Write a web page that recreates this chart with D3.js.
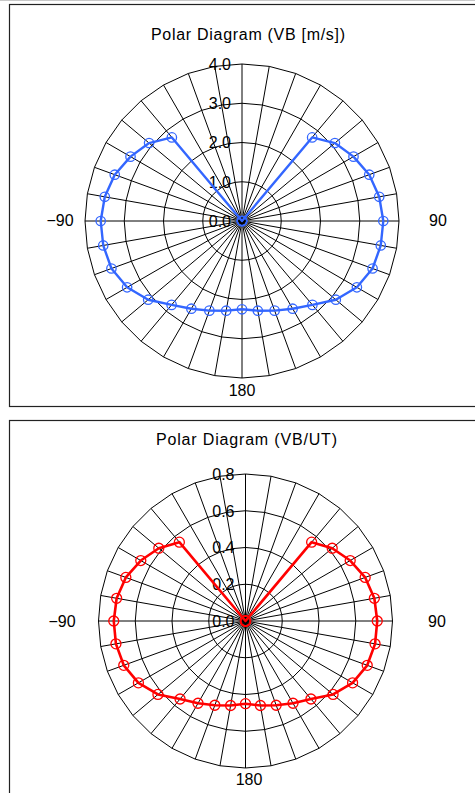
<!DOCTYPE html>
<html><head><meta charset="utf-8">
<script src="https://cdn.jsdelivr.net/npm/d3@7/dist/d3.min.js"></script>
<style>body{margin:0;background:#fff}svg{display:block}text{font-family:"Liberation Sans",Arial,sans-serif;fill:#000}</style>
</head><body>
<svg id="c" width="475" height="793"></svg>
<script>
// categories: angle in degrees (clockwise from top)
const angles = [0,10,20,30,40,50,60,70,80,90,100,110,120,130,140,150,160,170,180,190,200,210,220,230,240,250,260,270,280,290,300,310,320,330,340,350];
const categoryLabels = {90:"90",180:"180",270:"−90"};
// series 1: VB [m/s]
const vb = [0,0,0,0,2.78,3.09,3.28,3.45,3.55,3.60,3.59,3.54,3.38,3.12,2.79,2.58,2.43,2.32,2.25,2.32,2.43,2.58,2.79,3.12,3.38,3.54,3.59,3.60,3.55,3.45,3.28,3.09,2.78,0,0,0];
const vbTicks = [0,1,2,3,4];
const vbTickLabels = ["0.0","1.0","2.0","3.0","4.0"];
// series 2: VB/UT
const vbut = [0,0,0,0,0.560,0.616,0.658,0.693,0.712,0.717,0.716,0.705,0.673,0.622,0.554,0.517,0.488,0.467,0.450,0.467,0.488,0.517,0.554,0.622,0.673,0.705,0.716,0.717,0.712,0.693,0.658,0.616,0.560,0,0,0];
const vbutTicks = [0,0.2,0.4,0.6,0.8];
const vbutTickLabels = ["0.0","0.2","0.4","0.6","0.8"];

const svg = d3.select("#c");
svg.append("line").attr("x1",0).attr("x2",475).attr("y1",0.5).attr("y2",0.5).attr("stroke","#c8c8c8");

function chart(cfg){
  const g = svg.append("g");
  g.append("rect").attr("x",cfg.box[0]+0.5).attr("y",cfg.box[1]+0.5).attr("width",cfg.box[2]).attr("height",cfg.box[3])
    .attr("fill","none").attr("stroke","#222").attr("stroke-width",1.2);
  g.append("text").attr("x",cfg.tx).attr("y",cfg.ty).attr("text-anchor","middle").attr("font-size",16)
    .attr("textLength",cfg.tlen).attr("lengthAdjust","spacing").text(cfg.title);
  const r = d3.scaleLinear().domain([0,cfg.max]).range([0,cfg.R]);
  const a = d3.scaleLinear().domain([0,360]).range([0,2*Math.PI]);
  const p = g.append("g").attr("transform",`translate(${cfg.cx},${cfg.cy})`);
  const pt = (ang,v)=>[r(v)*Math.sin(a(ang)), -r(v)*Math.cos(a(ang))];
  // spokes
  p.selectAll("line.sp").data(angles).join("line").attr("class","sp")
    .attr("x1",0).attr("y1",0).attr("x2",d=>pt(d,cfg.max)[0]).attr("y2",d=>pt(d,cfg.max)[1])
    .attr("stroke","#000").attr("stroke-width",1);
  // rings (polygons)
  const ring = d3.lineRadial().angle(d=>a(d.ang)).radius(d=>r(d.v)).curve(d3.curveLinearClosed);
  p.selectAll("path.rg").data(cfg.ticks.filter(t=>t>0)).join("path").attr("class","rg")
    .attr("d",t=>ring(angles.map(ang=>({ang,v:t})))).attr("fill","none").attr("stroke","#000").attr("stroke-width",1);
  // tick labels
  p.selectAll("text.tk").data(cfg.ticks).join("text").attr("class","tk")
    .attr("x",-11).attr("y",t=>-r(t)).attr("dy","0.36em").attr("text-anchor","end").attr("font-size",16)
    .text((t,i)=>cfg.tickLabels[i]);
  // series
  const pts = angles.map((ang,i)=>({ang,v:cfg.vals[i]}));
  const line = d3.lineRadial().angle(d=>a(d.ang)).radius(d=>r(d.v)).curve(d3.curveLinearClosed);
  p.append("path").attr("d",line(pts)).attr("fill","none").attr("stroke",cfg.color).attr("stroke-width",cfg.lw).attr("stroke-linejoin","round");
  p.selectAll("circle.mk").data(pts).join("circle").attr("class","mk")
    .attr("cx",d=>pt(d.ang,d.v)[0]).attr("cy",d=>pt(d.ang,d.v)[1]).attr("r",cfg.mr)
    .attr("fill","none").attr("stroke",cfg.color).attr("stroke-width",1.3);
  // category labels
  for (const k of Object.keys(categoryLabels)){
    const ang = +k;
    const pos = cfg.catPos[ang];
    g.append("text").attr("x",pos[0]).attr("y",pos[1]).attr("dy","0.36em").attr("text-anchor","middle")
      .attr("font-size",16).text(categoryLabels[k]);
  }
}

chart({box:[9,4,480,402],title:"Polar Diagram (VB [m/s])",tx:248,ty:40,tlen:194,
  cx:242,cy:221,R:157,max:4,ticks:vbTicks,tickLabels:vbTickLabels,vals:vb,color:"#3366ff",lw:2.4,mr:4.7,
  catPos:{90:[438,220],180:[242,390],270:[60,220]}});
chart({box:[9,420,480,390],title:"Polar Diagram (VB/UT)",tx:246.5,ty:445,tlen:181,
  cx:245.5,cy:621,R:147,max:0.8,ticks:vbutTicks,tickLabels:vbutTickLabels,vals:vbut,color:"#ff0000",lw:2.6,mr:5,
  catPos:{90:[437,621],180:[249,779],270:[62,621]}});
</script>
</body></html>
